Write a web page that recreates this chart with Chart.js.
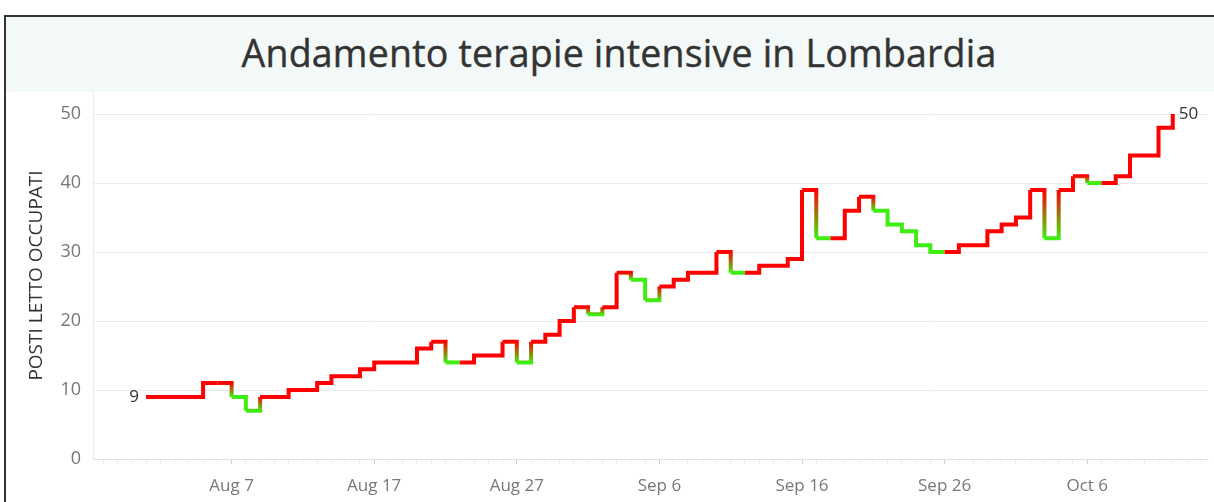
<!DOCTYPE html>
<html>
<head>
<meta charset="utf-8">
<script src="https://cdn.jsdelivr.net/npm/chart.js@4.4.0/dist/chart.umd.min.js"></script>
<style>
  body { margin: 0; background: #fff; font-family: 'Open Sans', sans-serif; overflow: hidden; }
  #frame { position: absolute; left: 4px; top: 15px; width: 1214px; height: 500px; border-top: 2px solid #333; border-left: 2px solid #333; }
  #title { height: 75px; background: #f3f8f8; color: #333; font-size: 37.5px; font-weight: 500; text-align: center; line-height: 72px; padding-left: 12px; letter-spacing: 0.2px; -webkit-text-stroke: 0.4px #333; }
  #wrap { position: relative; width: 1208px; height: 410px; }
</style>
</head>
<body>
<div id="frame">
  <div id="title">Andamento terapie intensive in Lombardia</div>
  <div id="wrap"><canvas id="trendChart" width="1208" height="410"></canvas></div>
</div>
<script>
// ICU beds occupied in Lombardy, one value per day from Aug 1 to Oct 12
const startDate = new Date(2020, 7, 1);
const values = [
  9, 9, 9, 9, 11, 11, 9, 7, 9, 9,        // Aug 1-10
  10, 10, 11, 12, 12, 13, 14, 14, 14, 16, // Aug 11-20
  17, 14, 14, 15, 15, 17, 14, 17, 18, 20, // Aug 21-30
  22, 21, 22, 27, 26, 23, 25, 26, 27, 27, // Aug 31 - Sep 9
  30, 27, 27, 28, 28, 29, 39, 32, 32, 36, // Sep 10-19
  38, 36, 34, 33, 31, 30, 30, 31, 31, 33, // Sep 20-29
  34, 35, 39, 32, 39, 41, 40, 40, 41, 44, // Sep 30 - Oct 9
  44, 48, 50                              // Oct 10-12
];
const tickLabels = ['Aug 7', 'Aug 17', 'Aug 27', 'Sep 6', 'Sep 16', 'Sep 26', 'Oct 6'];
const yTicks = [0, 10, 20, 30, 40, 50];

const RED = '#ff0000';
const GREEN = '#3dee10';

const months = ['Jan', 'Feb', 'Mar', 'Apr', 'May', 'Jun', 'Jul', 'Aug', 'Sep', 'Oct', 'Nov', 'Dec'];
const dates = values.map((v, i) => {
  const d = new Date(startDate);
  d.setDate(d.getDate() + i);
  return months[d.getMonth()] + ' ' + d.getDate();
});

// green when the count went down, red otherwise
function colorAt(i) {
  if (i > 0 && values[i] < values[i - 1]) return GREEN;
  return RED;
}

// print first and last value next to the line
const endLabels = {
  id: 'endLabels',
  afterDatasetsDraw(chart) {
    const pts = chart.getDatasetMeta(0).data;
    const first = pts[0], last = pts[pts.length - 1];
    const c = chart.ctx;
    c.save();
    c.font = '17px "Open Sans"';
    c.fillStyle = '#333';
    c.textBaseline = 'middle';
    c.textAlign = 'right';
    c.fillText(values[0], first.x - 7, first.y);
    c.textAlign = 'left';
    c.fillText(values[values.length - 1], last.x + 6, last.y);
    c.restore();
  }
};

const ctx = document.getElementById('trendChart').getContext('2d');
const trendChart = new Chart(ctx, {
  type: 'line',
  data: {
    datasets: [{
      data: values.map((v, i) => ({ x: i, y: v })),
      stepped: 'before',   // hold the value until the next day, then jump
      borderWidth: 4,
      pointRadius: 0,
      borderColor: RED,
      segment: {
        borderColor: (sc) => {
          const c0 = colorAt(sc.p0DataIndex);
          const c1 = colorAt(sc.p1DataIndex);
          if (c0 === c1 || sc.p0.y === sc.p1.y) return c0;
          const g = sc.chart.ctx.createLinearGradient(0, sc.p0.y, 0, sc.p1.y);
          g.addColorStop(0, c0);
          g.addColorStop(1, c1);
          return g;
        }
      }
    }]
  },
  options: {
    responsive: false,
    devicePixelRatio: 1,
    animation: false,
    layout: { padding: { top: 0, right: 6, left: 0, bottom: 0 } },
    plugins: { legend: { display: false }, tooltip: { enabled: false } },
    scales: {
      x: {
        type: 'linear',
        min: -3.72,
        max: 74.47,
        afterFit: (s) => { s.height = 43; s.paddingLeft = 0; s.paddingRight = 0; },
        border: { color: '#e3e3e3' },
        grid: {
          drawOnChartArea: false,
          tickLength: 5,
          color: (g) => tickLabels.includes(dates[g.tick.value]) ? '#cfcfcf' : '#ececec'
        },
        ticks: {
          stepSize: 1,
          autoSkip: false,
          includeBounds: false,
          maxRotation: 0,
          padding: 12,
          color: '#777',
          font: { family: 'Open Sans', size: 17 },
          callback: (v) => tickLabels.includes(dates[v]) ? dates[v] : ''
        }
      },
      y: {
        min: 0,
        max: 53.2,
        afterBuildTicks: (s) => { s.ticks = yTicks.map(v => ({ value: v })); },
        afterFit: (s) => { s.width = 87; s.paddingTop = 0; s.paddingBottom = 0; },
        border: { color: '#ececec' },
        grid: { color: '#ececec', drawTicks: false },
        ticks: {
          padding: 12,
          color: '#777',
          font: { family: 'Open Sans', size: 18 }
        },
        title: {
          display: true,
          text: 'POSTI LETTO OCCUPATI',
          color: '#333',
          padding: { top: 19, bottom: 0 },
          font: { family: 'Open Sans', size: 19 }
        }
      }
    }
  },
  plugins: [endLabels]
});
</script>
</body>
</html>
